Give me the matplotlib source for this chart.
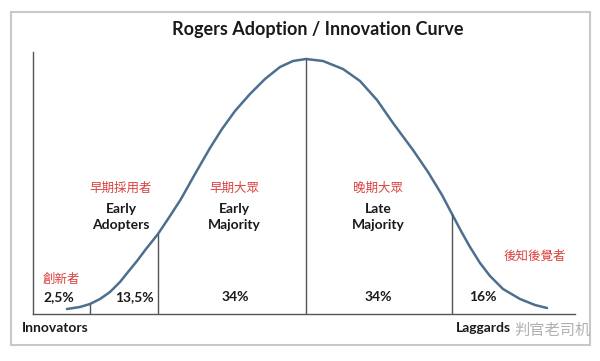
import matplotlib.pyplot as plt
from matplotlib.patches import Rectangle

plt.rcParams['font.family'] = ['Lato', 'Noto Sans CJK TC', 'DejaVu Sans']

# curve: x position, height above the baseline
curve_x = [67, 80, 90, 100, 110, 120, 128, 137, 146, 158, 170, 181, 195, 210, 222, 235,
           250, 265, 280, 293, 306, 323, 343, 360, 377, 393, 413, 428, 442, 452, 461,
           470, 480, 490, 503, 520, 535, 547]
curve_h = [5, 7, 10, 15, 22, 32, 42, 53, 65, 80, 98, 115, 140, 166, 185, 203,
           220, 235, 247, 253, 255, 253, 245, 233, 214, 191, 164, 142, 119, 100, 83,
           67, 51, 38, 25, 15, 9, 6]

# segment dividers
divider_x = [90, 158, 306, 452]
divider_h = [10, 80, 255, 100]

# segment labels
seg_cn = ['創新者', '早期採用者', '早期大眾', '晚期大眾', '後知後覺者']
seg_en = ['', 'Early\nAdopters', 'Early\nMajority', 'Late\nMajority', '']
seg_pct = ['2,5%', '13,5%', '34%', '34%', '16%']
cn_pos = [(61, 35), (121, 126), (234, 126), (378, 126), (535, 58)]
en_pos = [(0, 0), (121, 97), (234, 97), (378, 97), (0, 0)]
pct_pos = [59, 134, 235, 378, 483]

red = '#d9423f'
dark = '#1a1a1a'

fig = plt.figure(figsize=(6, 3.61), dpi=100)
fig.patches.append(Rectangle((11 / 600, 1 - 345 / 361), 579 / 600, 333 / 361,
                             transform=fig.transFigure, fill=False,
                             edgecolor='#c8c8c8', linewidth=1.5))

ax = fig.add_axes([33 / 600, 1 - 314 / 361, 542 / 600, 262 / 361])
ax.set_xlim(33, 575)
ax.set_ylim(0, 262)
ax.spines['top'].set_visible(False)
ax.spines['right'].set_visible(False)
for s in ['left', 'bottom']:
    ax.spines[s].set_color('#555555')
    ax.spines[s].set_linewidth(1.0)
ax.set_xticks([])
ax.set_yticks([])
ax.patch.set_alpha(0)

ax.plot(curve_x, curve_h, color='#4d6f8f', linewidth=1.8,
        solid_capstyle='round', solid_joinstyle='round')
ax.vlines(divider_x, 0, divider_h, color='#555555', linewidth=1.0)

for i in range(len(seg_cn)):
    ax.text(cn_pos[i][0], cn_pos[i][1], seg_cn[i], color=red, fontsize=9,
            ha='center', va='center')
    if seg_en[i]:
        ax.text(en_pos[i][0], en_pos[i][1], seg_en[i], color=dark, fontsize=10,
                fontweight='bold', ha='center', va='center', linespacing=1.35)
    ax.text(pct_pos[i], 17, seg_pct[i], color=dark, fontsize=10, fontweight='bold',
            ha='center', va='center')

ax.text(55, -14, 'Innovators', color=dark, fontsize=10, fontweight='bold',
        ha='center', va='center', clip_on=False)
ax.text(483, -14, 'Laggards', color=dark, fontsize=10, fontweight='bold',
        ha='center', va='center', clip_on=False)

fig.text(318 / 600, 1 - 30 / 361, 'Rogers Adoption / Innovation Curve', fontsize=13,
         fontweight='bold', color=dark, ha='center', va='center')

# watermark
fig.text(552 / 600, 1 - 331 / 361, '判官老司机', fontsize=11, color='#a8a8a8',
         ha='center', va='center', alpha=0.9)

fig.savefig('out.png', dpi=100, facecolor='white')
